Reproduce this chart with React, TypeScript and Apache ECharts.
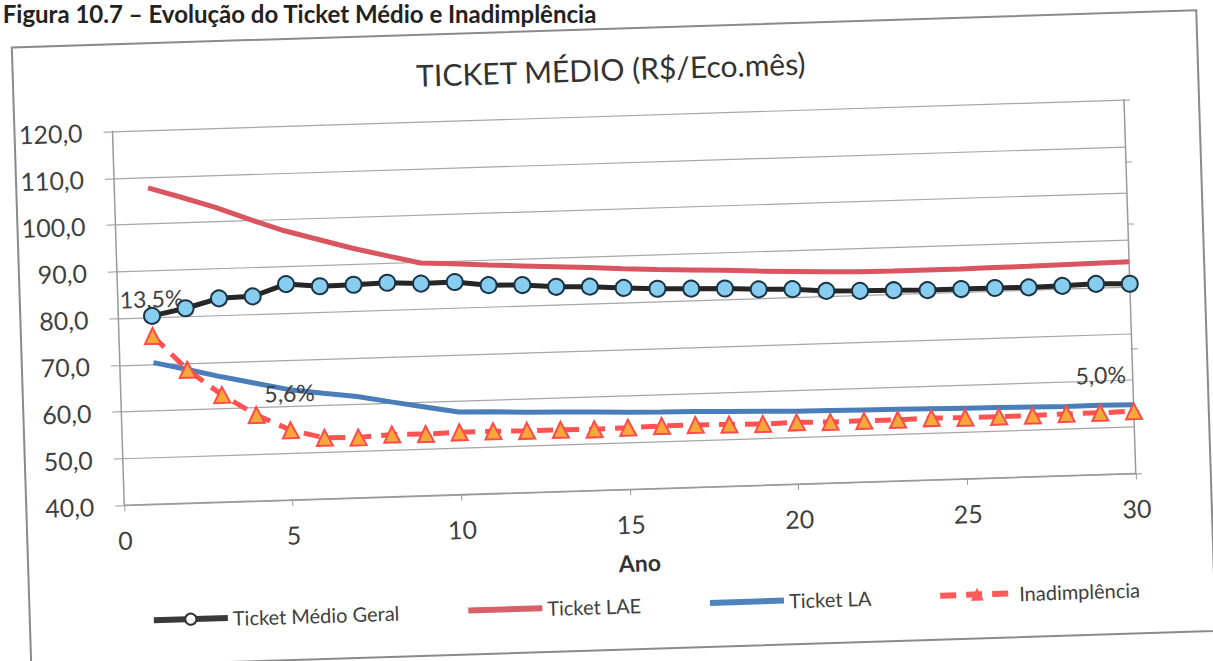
import React, { useEffect, useRef } from "react";
import * as echarts from "echarts";

// ---- data ----
const years = [1, 2, 3, 4, 5, 6, 7, 8, 9, 10, 11, 12, 13, 14, 15, 16, 17, 18, 19, 20, 21, 22, 23, 24, 25, 26, 27, 28, 29, 30];

const ticketMedioGeral = [80.3, 81.7, 83.6, 83.8, 86.2, 85.5, 85.6, 85.8, 85.4, 85.5, 84.6, 84.4, 83.8, 83.6, 83.1, 82.7, 82.5, 82.3, 81.9, 81.7, 81.1, 80.9, 80.8, 80.6, 80.6, 80.6, 80.5, 80.6, 80.8, 80.6];

const ticketLAE = [107.7, 105.4, 103.0, 100.2, 97.6, 95.5, 93.4, 91.6, 89.8, 89.4, 88.9, 88.5, 88.1, 87.7, 87.2, 86.8, 86.5, 86.2, 85.8, 85.5, 85.2, 85.0, 84.9, 84.9, 84.9, 85.0, 85.0, 85.1, 85.2, 85.3];

const ticketLA = [70.3, 68.6, 66.8, 65.2, 63.6, 62.6, 61.7, 60.3, 59.0, 57.7, 57.5, 57.2, 57.0, 56.8, 56.5, 56.3, 56.2, 56.0, 55.8, 55.6, 55.5, 55.4, 55.3, 55.2, 55.1, 55.0, 54.9, 54.8, 54.8, 54.7];

// Inadimplência in %, plotted on a hidden 0–30 % secondary axis
const inadimplencia = [13.5, 10.7, 8.6, 6.9, 5.6, 4.9, 4.85, 5.0, 4.95, 5.0, 5.0, 4.95, 4.95, 4.9, 4.95, 5.0, 5.0, 4.95, 4.9, 4.95, 4.9, 4.9, 4.9, 4.95, 4.9, 4.9, 4.9, 4.95, 4.95, 5.0];

// indices of the Inadimplência points that carry a data label
const labelledPoints = [0, 4, 29];

const seriesNames = ["Ticket Médio Geral", "Ticket LAE", "Ticket LA", "Inadimplência"];

const FONT = "Lato, 'Open Sans', 'DejaVu Sans', sans-serif";
const fmt1 = (v: number) => v.toFixed(1).replace(".", ",");

const SKEW = 1.8; // degrees, the scan is tilted

export default function App() {
  const ref = useRef<HTMLDivElement>(null);

  useEffect(() => {
    if (!ref.current) return;
    const chart = echarts.init(ref.current, null, { renderer: "svg" });

    const pairs = (arr: number[]) => arr.map((v, i) => [years[i], v]);

    const inadData = inadimplencia.map((v, i) => {
      if (labelledPoints.indexOf(i) >= 0) {
        return {
          value: [years[i], v],
          label: {
            show: true,
            position: "top",
            distance: 17,
            offset: i === 29 ? [-32, 0] : [0, 0],
            formatter: () => fmt1(v) + "%",
            fontSize: 23,
            color: "#404040",
            fontFamily: FONT,
          },
        };
      }
      return { value: [years[i], v] };
    });

    const option: any = {
      animation: false,
      backgroundColor: "#ffffff",
      textStyle: { fontFamily: FONT },
      title: {
        text: "TICKET MÉDIO (R$/Eco.mês)",
        left: 654,
        top: 89,
        textAlign: "center",
        textStyle: { fontSize: 30, fontWeight: "normal", color: "#333333", fontFamily: FONT },
      },
      legend: {
        left: 177,
        top: 631,
        itemWidth: 74,
        itemHeight: 14,
        itemGap: 66,
        data: [
          { name: seriesNames[0], itemStyle: { color: "#ffffff", borderColor: "#333333", borderWidth: 2 }, lineStyle: { width: 6, color: "#3a3a3a" } },
          { name: seriesNames[1], itemStyle: { color: "transparent", borderWidth: 0, opacity: 0 }, lineStyle: { width: 6, color: "#d9606a" } },
          { name: seriesNames[2], itemStyle: { color: "transparent", borderWidth: 0, opacity: 0 }, lineStyle: { width: 6, color: "#4f83bd" } },
          { name: seriesNames[3], itemStyle: { color: "#ff5a5a", borderColor: "#ff5a5a", borderWidth: 1 }, lineStyle: { width: 6, color: "#ff5a5a" } },
        ],
        textStyle: { fontSize: 20, color: "#404040", fontFamily: FONT },
      },
      grid: { left: 159, top: 156, right: 122, bottom: 211, containLabel: false, outerBoundsMode: "none" },
      xAxis: {
        type: "value",
        min: 0,
        max: 30,
        interval: 5,
        name: "Ano",
        nameLocation: "middle",
        nameGap: 62,
        nameTextStyle: { fontSize: 23, fontWeight: "bold", color: "#333333", fontFamily: FONT, padding: [0, 0, 0, 15] },
        axisLine: { show: true, lineStyle: { color: "#9a9a9a", width: 1.5 } },
        axisTick: { show: true, inside: false, length: 6, lineStyle: { color: "#9a9a9a" } },
        axisLabel: { fontSize: 25, color: "#404040", margin: 22, fontFamily: FONT },
        splitLine: { show: false },
      },
      yAxis: [
        {
          type: "value",
          min: 40,
          max: 120,
          interval: 10,
          axisLine: { show: true, lineStyle: { color: "#9a9a9a", width: 1.5 } },
          axisTick: { show: true, inside: false, length: 9, lineStyle: { color: "#9a9a9a" } },
          axisLabel: { fontSize: 25, color: "#404040", margin: 30, fontFamily: FONT, formatter: (v: number) => fmt1(v) },
          splitLine: { show: true, lineStyle: { color: "#a6a6a6", width: 1.2 } },
        },
        {
          type: "value",
          position: "right",
          min: 0,
          max: 30,
          interval: 5,
          axisLine: { show: true, lineStyle: { color: "#9a9a9a", width: 1.5 } },
          axisTick: { show: true, inside: false, length: 6, lineStyle: { color: "#9a9a9a" } },
          axisLabel: { show: false },
          splitLine: { show: false },
        },
      ],
      series: [
        {
          name: seriesNames[1],
          type: "line",
          data: pairs(ticketLAE),
          symbol: "none",
          lineStyle: { color: "#d9555f", width: 5 },
          itemStyle: { color: "#d9555f" },
          z: 2,
        },
        {
          name: seriesNames[2],
          type: "line",
          data: pairs(ticketLA),
          symbol: "none",
          lineStyle: { color: "#4a7ebb", width: 5 },
          itemStyle: { color: "#4a7ebb" },
          z: 2,
        },
        {
          name: seriesNames[3],
          type: "line",
          yAxisIndex: 1,
          data: inadData,
          symbol: "triangle",
          symbolSize: 16,
          lineStyle: { color: "#ff5252", width: 5, type: [16, 10] },
          itemStyle: { color: "#f8a83a", borderColor: "#ff4a4a", borderWidth: 2 },
          z: 3,
        },
        {
          name: seriesNames[0],
          type: "line",
          data: pairs(ticketMedioGeral),
          symbol: "circle",
          symbolSize: 16,
          lineStyle: { color: "#262626", width: 5 },
          itemStyle: { color: "#86cdf0", borderColor: "#1b3445", borderWidth: 2 },
          z: 4,
        },
      ],
      graphic: [
        {
          type: "rect",
          z: -10,
          shape: { x: 61, y: 69, width: 1185, height: 621 },
          style: { fill: "transparent", stroke: "#8a8a8a", lineWidth: 2 },
        },
        {
          type: "text",
          x: 53,
          y: 35,
          rotation: -(SKEW * Math.PI) / 180,
          style: {
            text: "Figura 10.7 – Evolução do Ticket Médio e Inadimplência",
            fontSize: 24,
            fontWeight: "bold",
            fontFamily: FONT,
            fill: "#222222",
            verticalAlign: "middle",
            align: "left",
          },
        },
      ],
    };

    chart.setOption(option);
    return () => chart.dispose();
  }, []);

  return (
    <div style={{ position: "fixed", left: 0, top: 0, width: 1213, height: 661, overflow: "hidden", background: "#ffffff" }}>
      <div
        ref={ref}
        style={{
          position: "absolute",
          left: -40,
          top: -40,
          width: 1293,
          height: 741,
          transform: `rotate(-${SKEW}deg)`,
          transformOrigin: "50% 50%",
        }}
      />
    </div>
  );
}
